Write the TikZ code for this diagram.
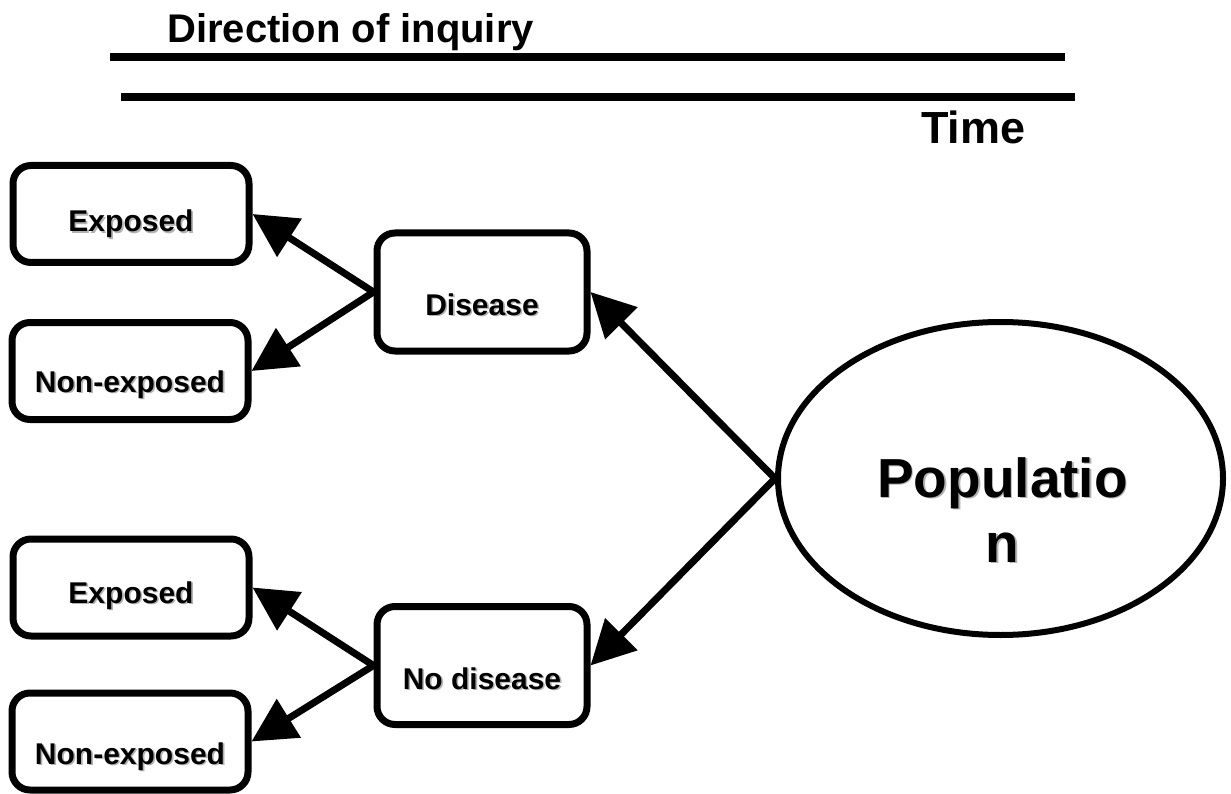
\documentclass[tikz,border=0pt]{standalone}
\usepackage{fontspec}
\setmainfont{Liberation Sans}
\usetikzlibrary{shapes.geometric,arrows.meta}
\newcommand\shtext[1]{\makebox[0pt][l]{\hspace{1.6pt}\raisebox{-1.6pt}{\textcolor{black!30}{#1}}}#1}
\begin{document}
\begin{tikzpicture}[x=1pt,y=-1pt,
  box/.style={draw, line width=7pt, rounded corners=18pt, minimum width=236pt,
    minimum height=97pt, inner sep=0pt, text depth=7pt,
    font=\fontsize{30}{36}\selectfont\bfseries},
  mid/.style={box, minimum width=210pt, minimum height=118pt},
  popsh/.style={draw, ellipse, line width=6pt, minimum width=445pt, minimum height=313pt, inner sep=0pt},
  poplbl/.style={align=center, inner sep=0pt, font=\fontsize{55}{65}\selectfont\bfseries},
  arr/.style={line width=7pt, -{Triangle[length=44pt,width=44pt]}},
  rulel/.style={line width=8pt},
  title/.style={anchor=base west, inner sep=0pt, font=\bfseries}]
\useasboundingbox (0,0) rectangle (1231,794);

% titles and time lines
\node[title, font=\fontsize{40}{48}\selectfont\bfseries] (dir) at (167,43) {Direction of inquiry};
\coordinate (l1a) at (110,57); \coordinate (l1b) at (1065,57);
\coordinate (l2a) at (121,97); \coordinate (l2b) at (1075,97);
\draw[rulel] (l1a) -- (l1b);
\draw[rulel] (l2a) -- (l2b);
\node[title, font=\fontsize{45}{54}\selectfont\bfseries] (time) at (921,144) {Time};

% boxes
\node[box, text height=43pt] (exp1) at (131,214) {\shtext{Exposed}};
\node[box, text height=49pt] (non1) at (130,371) {\shtext{Non-exposed}};
\node[box, text height=38pt] (exp2) at (131,587.5) {\shtext{Exposed}};
\node[box, text height=52pt] (non2) at (130,741.5) {\shtext{Non-exposed}};
\node[mid, text height=53pt] (dis) at (482,292) {\shtext{Disease}};
\node[mid, text height=54pt] (nod) at (482,665.5) {\shtext{No disease}};

% population
\node[popsh] (pop) at (1000.5,478.5) {};
\node[poplbl] (poptxt) at ([xshift=2pt,yshift=-32pt]pop.center) {\shtext{Populatio}\\\shtext{n}};

% arrows
\draw[arr] (dis.west) -- (exp1.east);
\draw[arr] (dis.west) -- (non1.east);
\draw[arr] (nod.west) -- (exp2.east);
\draw[arr] (nod.west) -- (non2.east);
\draw[arr] (pop.west) -- (dis.east);
\draw[arr] (pop.west) -- (nod.east);
\end{tikzpicture}
\end{document}
